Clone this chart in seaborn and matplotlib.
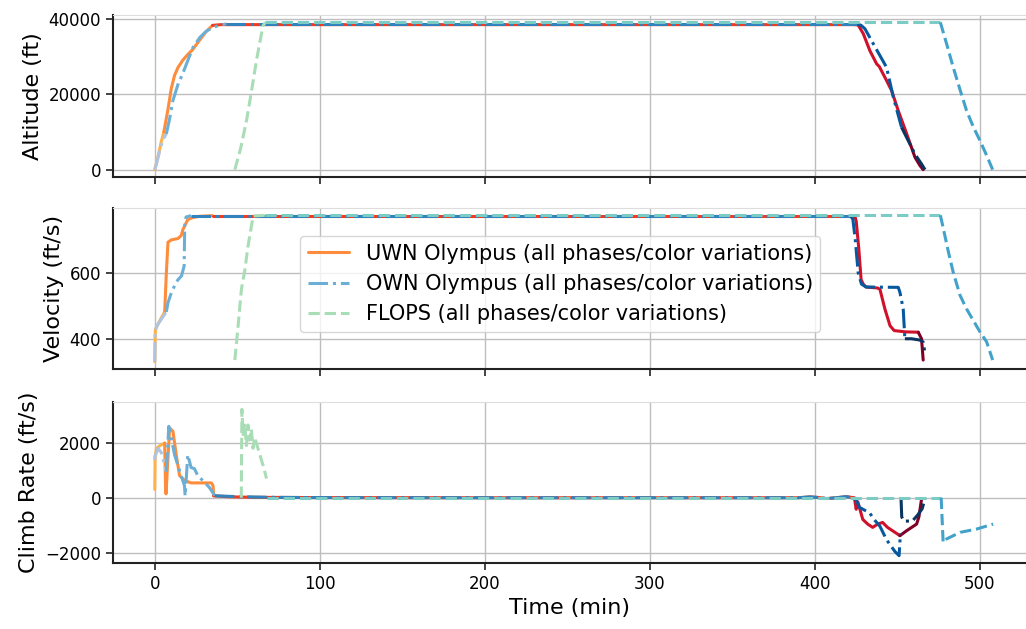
import matplotlib
matplotlib.use("Agg")
import matplotlib.pyplot as plt
import pandas as pd
import seaborn as sns
from matplotlib.lines import Line2D

# ---------------- data (time in min, one inner list per flight phase) ----------------
UWN_ALT_T = [[0, 2, 4, 5.5],
             [5.5, 8, 10, 12, 14, 17, 20, 23, 27, 31, 35],
             [35, 40, 424],
             [424, 426.2, 429.3, 433.3, 437.4, 439, 443.4, 446.5, 450.5, 455.6, 458],
             [458, 460.6, 463.6, 465.6]]
UWN_ALT_V = [[0, 3500, 7500, 10000],
             [10000, 16000, 21500, 25000, 27000, 29000, 30500, 31800, 34200, 36500, 38200],
             [38200, 38400, 38400],
             [38400, 38300, 36000, 31500, 28000, 27300, 23600, 20900, 15600, 9500, 6500],
             [6500, 3300, 1100, 0]]
UWN_VEL_T = [[0, 0.3, 1, 3, 6],
             [6, 7, 8, 10, 14, 16, 17, 20, 23, 27, 35],
             [35, 424],
             [424, 425, 426.5, 428, 429.5, 431, 438, 439.4, 442.4, 445.5, 448, 455, 462.6],
             [462.6, 464.6, 465.6]]
UWN_VEL_V = [[330, 425, 435, 455, 482],
             [482, 600, 695, 702, 706, 715, 733, 764, 770, 774, 776],
             [776, 776],
             [776, 760, 680, 580, 565, 558, 555, 551, 491, 440, 425, 421, 420],
             [420, 400, 335]]
UWN_CLB_T = [[0, 0.2, 1, 4, 6],
             [6, 6.5, 6.8, 9, 11, 13, 15, 18, 22, 34.3, 35.3, 35.7],
             [35.7, 45, 60, 100, 200, 390, 397, 402, 407, 413, 419, 424],
             [424, 425, 426, 429, 432, 435, 438, 441, 444, 448.5, 451.5],
             [451.5, 455.6, 461.6, 463, 464.6]]
UWN_CLB_V = [[300, 1500, 1800, 1930, 1990],
             [1990, 440, 140, 2540, 2420, 1560, 810, 630, 540, 540, 440, 70],
             [70, 35, 15, 5, 0, 0, 30, 10, -30, 0, 40, 0],
             [-40, -420, -150, -790, -960, -1080, -960, -900, -1080, -1260, -1380],
             [-1380, -1200, -960, -700, -50]]

OWN_ALT_T = [[0, 1, 3, 5, 7],
             [7, 9, 11, 14, 17, 19.2, 23.2, 27.3, 31, 35.3, 40, 43.4],
             [43.4, 425.8],
             [425.8, 428, 430.3, 435.4, 439, 443.4, 447.5, 452.5],
             [452.5, 455.6, 460.6, 464.6, 466.7]]
OWN_ALT_V = [[0, 1500, 5000, 8000, 9450],
             [9450, 13500, 18300, 22500, 25500, 28000, 32400, 35000, 36600, 37700, 38300, 38600],
             [38600, 38600],
             [38600, 38200, 37300, 33300, 30500, 27100, 19200, 11200],
             [11200, 8500, 4100, 1500, 0]]
OWN_VEL_T = [[0, 0.3, 2, 4, 7],
             [7, 8, 10, 12, 14, 16.2, 17.8, 18.2, 19, 22],
             [22, 421.5],
             [421.5, 423, 424.5, 426.2, 428.2, 431, 450.5, 451.5, 453.5, 454.5],
             [454.5, 458.6, 463.6, 465.6, 466.7]]
OWN_VEL_V = [[330, 428, 445, 460, 482],
             [482, 510, 540, 562, 580, 592, 622, 761, 772, 776],
             [776, 776],
             [776, 765, 700, 602, 567, 558, 557, 542, 491, 400],
             [400, 400, 396, 390, 355]]
OWN_CLB_T = [[0, 0.1, 2, 4, 6, 7],
             [7, 8.5, 10, 12, 14, 16, 18, 18.4, 20, 22, 24, 26, 29, 33, 36.4],
             [36.4, 50, 70, 100, 200, 390, 397, 402, 407, 413, 419, 423],
             [423, 425, 427, 430, 433, 436, 439.4, 443.4, 448.5, 451, 451.8],
             [452.2, 452.6, 454, 459, 462, 465, 466.7]]
OWN_CLB_V = [[1370, 1500, 1800, 1640, 1180, 940],
             [940, 2600, 2170, 1560, 1180, 800, 440, 70, 1560, 1100, 1060, 810, 630, 380, 70],
             [70, 40, 15, 5, 0, 0, 30, 10, -30, 0, 40, 0],
             [0, -80, -350, -450, -540, -800, -1040, -1530, -1960, -2110, -1300],
             [-50, -700, -850, -850, -650, -400, -30]]

FLOPS_ALT_T = [[48.5, 52, 55.6, 58.5, 61.6, 64, 65.6, 67],
               [67, 476],
               [476, 480, 483.8, 487.9, 491.9, 496, 500, 504, 507.7]]
FLOPS_ALT_V = [[0, 5600, 13000, 20500, 28900, 34500, 38100, 39000],
               [39000, 39000],
               [39000, 33000, 27100, 21200, 15600, 11300, 7700, 3800, 0]]
FLOPS_VEL_T = [[48.5, 50.5, 52.5, 54.5, 56.5, 59.6, 67],
               [67, 476],
               [476, 477.8, 480.8, 483.8, 487.9, 491.9, 500, 504, 507.7]]
FLOPS_VEL_V = [[335, 440, 552, 607, 683, 775, 777],
               [777, 777],
               [777, 737, 667, 603, 533, 491, 421, 391, 335]]
FLOPS_CLB_T = [[52.4, 52.8, 53.5, 54.5, 55.5, 56.5, 57.5, 58.5, 59.5, 60.5, 62, 64, 66, 67.7],
               [67.7, 476.5],
               [476.5, 477.7, 479.8, 488, 498, 508]]
FLOPS_CLB_V = [[0, 3220, 2300, 2700, 1900, 2650, 2100, 2500, 1800, 2200, 1900, 1500, 1100, 700],
               [0, 0],
               [0, -1630, -1500, -1260, -1140, -960]]

SERIES = ["UWN Olympus (all phases/color variations)",
          "OWN Olympus (all phases/color variations)",
          "FLOPS (all phases/color variations)"]
UWN_COLORS = ["#feb24c", "#fd8d3c", "#f03b20", "#d0112b", "#800026"]
OWN_COLORS = ["#afc4e0", "#6baed6", "#3182bd", "#08589e", "#0a3560"]
FLOPS_COLORS = ["#a8ddb5", "#7bccc4", "#43a2ca"]

YLABELS = ["Altitude (ft)", "Velocity (ft/s)", "Climb Rate (ft/s)"]
ALT_TICKS = [0, 20000, 40000]
VEL_TICKS = [400, 600]
CLB_TICKS = [-2000, 0, 2000]
X_TICKS = [0, 100, 200, 300, 400, 500]
XLABEL = "Time (min)"

# ---------------- plotting ----------------
sns.set_style("whitegrid")
plt.rcParams["font.family"] = ["DejaVu Sans"]
plt.rcParams["text.color"] = "black"
plt.rcParams["axes.labelcolor"] = "black"
plt.rcParams["xtick.color"] = "black"
plt.rcParams["ytick.color"] = "black"


def frame(ts, vs):
    rows = []
    for ph, (tt, vv) in enumerate(zip(ts, vs)):
        for t, v in zip(tt, vv):
            rows.append({"t": t, "v": v, "phase": ph})
    return pd.DataFrame(rows)


fig = plt.figure(figsize=(10.26, 6.29), dpi=100)
left, width = 0.110, 0.890
ax1 = fig.add_axes([left, 1 - 177 / 629, width, 162 / 629])
ax2 = fig.add_axes([left, 1 - 369 / 629, width, 161 / 629], sharex=ax1)
ax3 = fig.add_axes([left, 1 - 563 / 629, width, 161 / 629], sharex=ax1)
axes = [ax1, ax2, ax3]

series_data = [
    [(UWN_ALT_T, UWN_ALT_V), (UWN_VEL_T, UWN_VEL_V), (UWN_CLB_T, UWN_CLB_V)],
    [(OWN_ALT_T, OWN_ALT_V), (OWN_VEL_T, OWN_VEL_V), (OWN_CLB_T, OWN_CLB_V)],
    [(FLOPS_ALT_T, FLOPS_ALT_V), (FLOPS_VEL_T, FLOPS_VEL_V), (FLOPS_CLB_T, FLOPS_CLB_V)],
]
styles = ["-", "-.", "--"]
palettes = [UWN_COLORS, OWN_COLORS, FLOPS_COLORS]

for si, metrics in enumerate(series_data):
    for ax, (ts, vs) in zip(axes, metrics):
        df = frame(ts, vs)
        for ph, g in df.groupby("phase"):
            sns.lineplot(data=g, x="t", y="v", ax=ax, color=palettes[si][ph],
                         linestyle=styles[si], linewidth=2.2, sort=False,
                         estimator=None, zorder=2 + si, legend=False)

for ax, lab, ticks in zip(axes, YLABELS, [ALT_TICKS, VEL_TICKS, CLB_TICKS]):
    ax.set_ylabel(lab, fontsize=16)
    ax.set_xlabel("")
    ax.set_yticks(ticks)
    ax.grid(True, color="#bdbdbd", linewidth=1.0)
    ax.tick_params(axis="both", labelsize=12, length=5, width=1.2, color="#222222",
                   labelcolor="black", left=True, bottom=True)
    for s in ["left", "bottom"]:
        ax.spines[s].set_color("#222222")
        ax.spines[s].set_linewidth(1.5)
    ax.spines["top"].set_color("#dddddd")
    ax.spines["right"].set_visible(False)

ax3.set_xticks(X_TICKS)
ax3.set_xlim(-25.4, 527.9)
ax1.tick_params(labelbottom=False)
ax2.tick_params(labelbottom=False)
ax3.set_xlabel(XLABEL, fontsize=16)

handles = [Line2D([], [], color=UWN_COLORS[1], linestyle="-", linewidth=2.2),
           Line2D([], [], color=OWN_COLORS[1], linestyle="-.", linewidth=2.2),
           Line2D([], [], color=FLOPS_COLORS[0], linestyle="--", linewidth=2.2)]
ax2.legend(handles, SERIES, loc="center", bbox_to_anchor=(0.49, 0.528),
           fontsize=15, frameon=True, framealpha=0.8, edgecolor="#cccccc",
           labelspacing=0.5, borderpad=0.35)

fig.savefig("out.png", dpi=100)
